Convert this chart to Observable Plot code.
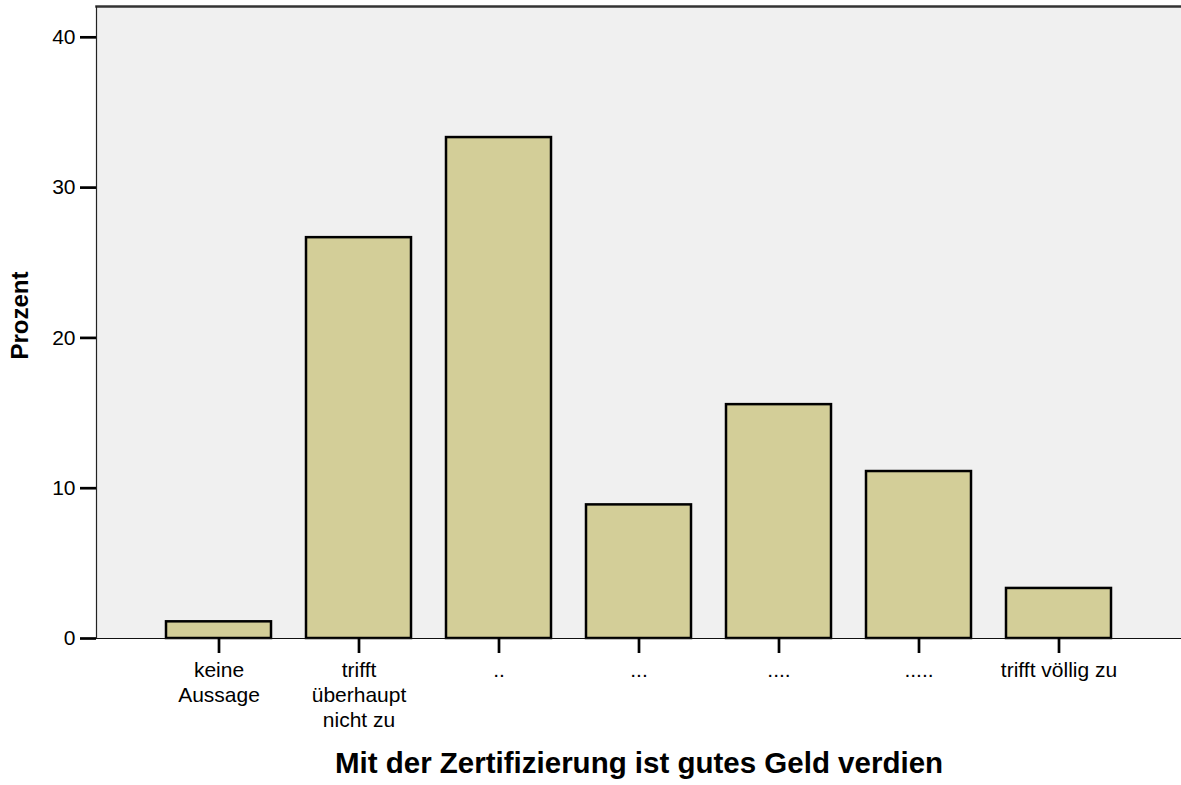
<!DOCTYPE html>
<html>
<head>
<meta charset="utf-8">
<script src="https://cdn.jsdelivr.net/npm/d3@7"></script>
<script src="https://cdn.jsdelivr.net/npm/@observablehq/plot@0.6"></script>
<style>
  html, body { margin: 0; padding: 0; background: #ffffff; }
  #chart svg { display: block; }
</style>
</head>
<body>
<div id="chart"></div>
<script>
const categories = ["keine\nAussage", "trifft\nüberhaupt\nnicht zu", "..", "...", "....", ".....", "trifft völlig zu"];
const percents = [1.11, 26.67, 33.33, 8.89, 15.56, 11.11, 3.33];
const yTicks = [0, 10, 20, 30, 40];
const yTitle = "Prozent";
const xTitle = "Mit der Zertifizierung ist gutes Geld verdien";

const data = categories.map((c, i) => ({cat: c, pct: percents[i]}));
const yMax = 42.05;

const chart = Plot.plot({
  width: 1181,
  height: 785,
  marginLeft: 96,
  marginRight: 0,
  marginTop: 6,
  marginBottom: 147,
  style: {fontFamily: "Arial, 'Liberation Sans', sans-serif", fontSize: "21px", background: "#ffffff", color: "#000"},
  x: {domain: categories, paddingInner: 0.25, paddingOuter: 0.5},
  y: {domain: [0, yMax]},
  marks: [
    Plot.frame({fill: "#f0f0f0", stroke: null}),
    Plot.frame({anchor: "top", stroke: "#333", strokeWidth: 2.5}),
    Plot.frame({anchor: "left", stroke: "#222", strokeWidth: 1.2}),
    Plot.barY(data, {x: "cat", y: "pct", fill: "#d3ce98", stroke: "#000", strokeWidth: 2.5}),
    Plot.ruleY([0], {stroke: "#111", strokeWidth: 1.2}),
    Plot.axisY({ticks: yTicks, tickSize: 16, tickPadding: 5, strokeWidth: 2.7, label: null, fontSize: 21}),
    Plot.axisX({tickSize: 15, tickPadding: 6, strokeWidth: 2.7, label: null, fontSize: 21, lineHeight: 1.18}),
    Plot.text([yTitle], {frameAnchor: "left", text: d => d, rotate: -90, dx: -76, dy: -7, fontSize: 24, fontWeight: "bold", lineAnchor: "middle", textAnchor: "middle"}),
    Plot.text([xTitle], {frameAnchor: "bottom", text: d => d, dy: 134, fontSize: 29.5, fontWeight: "bold", lineAnchor: "bottom", textAnchor: "middle"})
  ]
});
document.getElementById("chart").append(chart);
</script>
</body>
</html>
